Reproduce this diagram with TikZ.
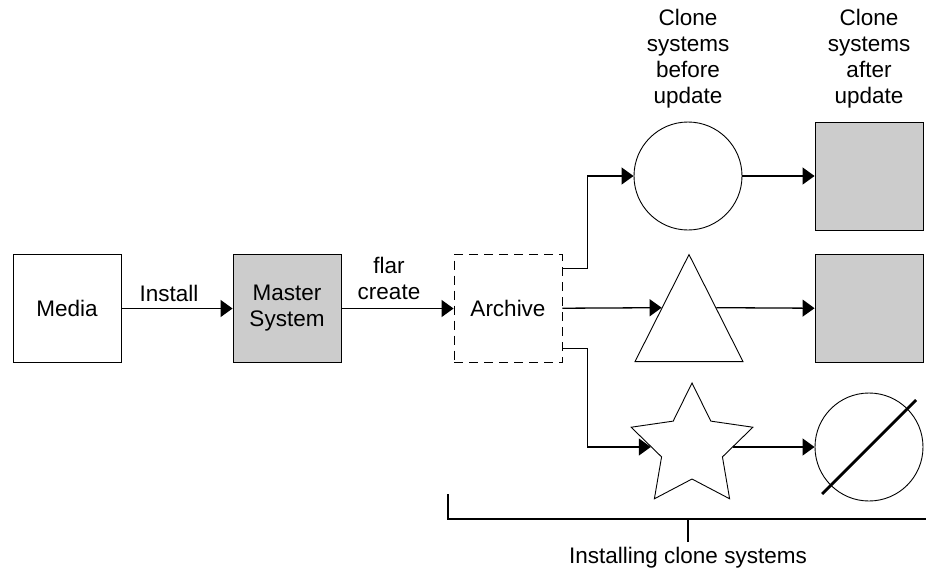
\documentclass[tikz,border=0pt]{standalone}
\usepackage{fontspec}
\setmainfont{Liberation Sans}
\usetikzlibrary{arrows.meta,shapes.geometric}
\definecolor{clonegray}{HTML}{CCCCCC}

\begin{document}
\begin{tikzpicture}[x=1pt, y=-1pt,
    font=\fontsize{22.5}{26}\selectfont,
    >={Triangle[length=12pt, width=17pt]},
    sysbox/.style={draw=black, line width=0.9pt, minimum size=108pt, inner sep=0pt, align=center},
    flow/.style={->, line width=1.3pt}]
    \useasboundingbox (0,0) rectangle (926,571);

    \node[sysbox, fill=white] (media) at (67,308.5) {Media};
    \node[sysbox, fill=clonegray] (master) at (287,308.5) {Master\\System};
    \node[sysbox, dash pattern=on 9pt off 6pt] (archive) at (508,308.5) {Archive};

    \node[circle, draw=black, line width=0.9pt, minimum size=108pt] (before1) at (688,176) {};
    \node[isosceles triangle, isosceles triangle stretches, shape border rotate=90, draw=black, line width=0.9pt, minimum width=108pt, minimum height=107pt, inner sep=0pt, anchor=lower side] (before2) at (689,362) {};
    \node[star, star points=5, star point ratio=2, draw=black, line width=0.9pt, minimum size=128pt, inner sep=0pt] (before3) at (692,447) {};

    \node[sysbox, fill=clonegray] (after1) at (869,176) {};
    \node[sysbox, fill=clonegray] (after2) at (869,308.5) {};
    \node[circle, draw=black, line width=0.9pt, minimum size=108pt] (after3) at (869,447) {};
    \draw[line width=2.8pt] (after3.center) ++(-47,47) -- ++(94,-94);

    \node[align=center] (beforelabel) at (688,59) {Clone\\systems\\before\\update};
    \node[align=center] (afterlabel) at (869,59) {Clone\\systems\\after\\update};
    \node (install) at (169,293) {Install};
    \node[align=center] (flar) at (389,278) {flar\\create};

    \draw[flow] (media) -- (master);
    \draw[flow] (master) -- (archive);
    \draw[flow] ([yshift=40pt]archive.east) -- ++(25,0) |- (before1);
    \draw[flow] (archive) -- (before2.left side);
    \draw[flow] ([yshift=-40pt]archive.east) -- ++(25,0) |- (before3);
    \draw[flow] (before1) -- (after1);
    \draw[flow] (before2.right side) -- (after2);
    \draw[flow] (before3) -- (after3);

    % bracket under the clones
    \coordinate (bracketleft) at (448,494);
    \coordinate (bracketright) at (926,519);
    \node[anchor=north, inner sep=5pt] (installing) at (688,542) {Installing clone systems};
    \draw[line width=1.3pt] (bracketleft) |- (bracketright);
    \draw[line width=1.3pt] (installing.north) -- (installing.north |- bracketright);

\end{tikzpicture}
\end{document}
